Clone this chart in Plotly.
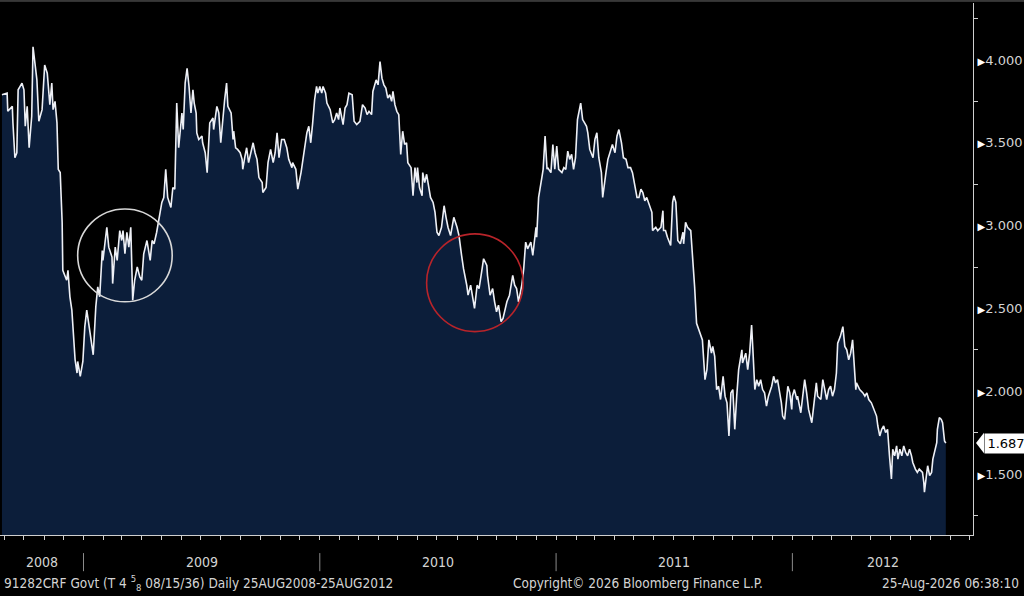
import pandas as pd
import plotly.graph_objects as go

# Bloomberg style price chart: 91282CRF Govt, daily 25AUG2008-25AUG2012

start_date = pd.Timestamp("2008-08-25")

# days after start_date
day_offset = [
    3, 11, 12, 19, 20, 23, 26, 28, 34, 37, 39, 42, 45, 49, 51, 54, 57, 60, 65, 69,
    73, 77, 80, 82, 85, 88, 90, 93, 96, 97, 103, 105, 108, 111, 116, 119, 120, 124, 128, 131,
    134, 137, 142, 144, 148, 151, 154, 158, 159, 164, 165, 168, 173, 174, 178, 181, 185, 188, 190, 193,
    196, 199, 202, 205, 208, 212, 216, 219, 222, 227, 229, 232, 235, 238, 242, 245, 250, 253, 256, 259,
    264, 267, 270, 273, 276, 281, 283, 286, 289, 292, 295, 298, 300, 303, 304, 307, 312, 313, 317, 320,
    321, 324, 329, 330, 335, 338, 341, 344, 347, 350, 352, 357, 360, 361, 364, 367, 371, 374, 375, 378,
    381, 384, 388, 391, 394, 397, 400, 405, 406, 411, 414, 418, 422, 425, 428, 431, 435, 439, 443, 446,
    451, 452, 457, 460, 465, 468, 471, 474, 477, 480, 483, 486, 489, 491, 494, 497, 499, 503, 505, 510,
    514, 517, 520, 523, 525, 530, 533, 536, 539, 544, 547, 551, 556, 560, 564, 567, 570, 574, 576, 581,
    584, 587, 590, 593, 596, 599, 602, 605, 607, 610, 613, 616, 619, 622, 625, 628, 630, 635, 638, 641,
    644, 645, 648, 652, 653, 656, 659, 662, 665, 669, 672, 675, 678, 682, 686, 689, 692, 696, 699, 701,
    706, 709, 713, 716, 721, 723, 727, 730, 733, 737, 740, 744, 747, 752, 753, 757, 761, 764, 767, 770,
    774, 777, 780, 783, 787, 792, 795, 798, 801, 806, 809, 812, 815, 820, 823, 828, 829, 832, 837, 839,
    842, 845, 846, 851, 854, 857, 860, 863, 868, 871, 874, 877, 880, 883, 886, 889, 892, 897, 900, 903,
    906, 908, 911, 916, 919, 922, 925, 929, 931, 936, 939, 943, 946, 950, 953, 956, 960, 963, 967, 970,
    974, 977, 980, 984, 987, 990, 993, 996, 999, 1002, 1007, 1008, 1013, 1016, 1021, 1024, 1025, 1028, 1031, 1036,
    1039, 1041, 1044, 1047, 1051, 1055, 1056, 1059, 1062, 1067, 1070, 1073, 1076, 1081, 1085, 1089, 1092, 1095, 1099, 1101,
    1104, 1107, 1110, 1113, 1117, 1120, 1123, 1126, 1129, 1132, 1135, 1138, 1141, 1146, 1147, 1152, 1155, 1158, 1161, 1163,
    1166, 1169, 1172, 1175, 1178, 1181, 1184, 1187, 1192, 1195, 1198, 1201, 1204, 1207, 1209, 1212, 1215, 1217, 1220, 1223,
    1224, 1227, 1231, 1232, 1237, 1240, 1243, 1246, 1249, 1254, 1257, 1261, 1263, 1268, 1271, 1274, 1277, 1280, 1283, 1286,
    1289, 1292, 1294, 1298, 1302, 1305, 1308, 1311, 1314, 1317, 1319, 1322, 1323, 1328, 1333, 1336, 1339, 1342, 1346, 1348,
    1351, 1354, 1356, 1359, 1362, 1365, 1368, 1371, 1374, 1377, 1379, 1382, 1385, 1387, 1390, 1393, 1396, 1399, 1402, 1405,
    1408, 1410, 1414, 1417, 1420, 1425, 1427, 1428, 1431, 1433, 1436, 1439, 1441, 1444, 1447, 1448, 1451, 1454, 1456, 1459,
    1461,
]

# price / yield level
price = [
    3.79, 3.80, 3.69, 3.72, 3.62, 3.41, 3.44, 3.82, 3.86, 3.82, 3.60, 3.72, 3.47, 3.66, 4.08, 3.96, 3.88, 3.63, 3.70, 3.97,
    3.92, 3.73, 3.86, 3.70, 3.75, 3.62, 3.34, 3.32, 3.02, 2.73, 2.67, 2.73, 2.57, 2.49, 2.19, 2.11, 2.18, 2.09, 2.18, 2.39,
    2.49, 2.41, 2.25, 2.22, 2.51, 2.63, 2.57, 2.85, 2.79, 2.93, 2.99, 2.87, 2.81, 2.65, 2.87, 2.79, 2.97, 2.91, 2.97, 2.83,
    2.96, 2.87, 2.99, 2.55, 2.67, 2.75, 2.69, 2.67, 2.83, 2.91, 2.87, 2.79, 2.91, 2.89, 2.96, 3.03, 3.14, 3.17, 3.34, 3.17,
    3.11, 3.23, 3.22, 3.74, 3.47, 3.68, 3.58, 3.86, 3.95, 3.84, 3.68, 3.82, 3.74, 3.68, 3.56, 3.52, 3.54, 3.50, 3.44, 3.32,
    3.40, 3.62, 3.65, 3.58, 3.72, 3.68, 3.50, 3.66, 3.76, 3.86, 3.72, 3.68, 3.52, 3.57, 3.47, 3.46, 3.44, 3.40, 3.34, 3.41,
    3.47, 3.38, 3.46, 3.50, 3.44, 3.40, 3.29, 3.26, 3.20, 3.23, 3.38, 3.46, 3.38, 3.44, 3.56, 3.41, 3.52, 3.52, 3.47, 3.40,
    3.35, 3.38, 3.34, 3.22, 3.32, 3.41, 3.50, 3.56, 3.60, 3.50, 3.62, 3.76, 3.84, 3.80, 3.84, 3.80, 3.84, 3.80, 3.74, 3.70,
    3.62, 3.64, 3.68, 3.64, 3.71, 3.61, 3.71, 3.73, 3.80, 3.79, 3.63, 3.61, 3.63, 3.73, 3.71, 3.67, 3.69, 3.67, 3.81, 3.88,
    3.85, 3.99, 3.89, 3.85, 3.83, 3.77, 3.79, 3.75, 3.81, 3.73, 3.69, 3.67, 3.43, 3.57, 3.49, 3.50, 3.38, 3.35, 3.18, 3.35,
    3.26, 3.35, 3.23, 3.18, 3.32, 3.26, 3.31, 3.23, 3.17, 3.14, 3.08, 2.96, 2.94, 2.99, 3.12, 3.05, 2.99, 2.94, 3.00, 3.05,
    2.99, 2.94, 2.82, 2.74, 2.64, 2.58, 2.64, 2.58, 2.50, 2.64, 2.62, 2.72, 2.80, 2.76, 2.70, 2.58, 2.62, 2.54, 2.48, 2.52,
    2.42, 2.44, 2.50, 2.54, 2.58, 2.70, 2.64, 2.62, 2.54, 2.64, 2.74, 2.90, 2.86, 2.90, 2.82, 2.99, 2.93, 3.17, 3.29, 3.34,
    3.54, 3.34, 3.35, 3.32, 3.49, 3.34, 3.48, 3.34, 3.32, 3.35, 3.34, 3.45, 3.40, 3.43, 3.34, 3.41, 3.64, 3.74, 3.64, 3.62,
    3.60, 3.56, 3.46, 3.41, 3.52, 3.56, 3.41, 3.32, 3.17, 3.32, 3.40, 3.45, 3.49, 3.44, 3.54, 3.58, 3.50, 3.41, 3.40, 3.35,
    3.35, 3.32, 3.26, 3.17, 3.17, 3.22, 3.20, 3.15, 3.17, 3.14, 3.08, 2.97, 2.99, 2.97, 2.99, 3.09, 2.97, 2.97, 2.93, 2.88,
    3.14, 3.18, 3.14, 2.91, 2.89, 2.96, 2.89, 3.02, 2.99, 2.97, 2.81, 2.63, 2.41, 2.35, 2.31, 2.07, 2.13, 2.31, 2.23, 2.27,
    2.21, 2.01, 2.03, 1.95, 2.09, 1.97, 1.93, 1.73, 1.99, 2.01, 1.77, 1.97, 2.13, 2.25, 2.17, 2.23, 2.13, 2.23, 2.40, 2.25,
    2.01, 2.07, 2.03, 2.07, 2.01, 1.99, 1.91, 1.97, 2.03, 2.09, 2.05, 2.07, 2.01, 1.93, 1.85, 1.83, 1.95, 2.03, 1.99, 1.89,
    1.97, 2.01, 1.95, 1.97, 1.87, 1.99, 2.07, 1.99, 1.89, 1.81, 1.93, 2.05, 1.97, 1.95, 2.07, 2.01, 1.95, 2.01, 2.03, 1.97,
    2.01, 2.11, 2.29, 2.33, 2.39, 2.27, 2.25, 2.19, 2.23, 2.31, 2.21, 2.01, 2.05, 2.01, 1.99, 1.97, 1.99, 1.95, 1.93, 1.91,
    1.87, 1.85, 1.79, 1.73, 1.77, 1.79, 1.75, 1.77, 1.61, 1.47, 1.65, 1.61, 1.67, 1.59, 1.65, 1.61, 1.67, 1.63, 1.61, 1.65,
    1.61, 1.57, 1.53, 1.51, 1.53, 1.51, 1.45, 1.39, 1.49, 1.55, 1.49, 1.51, 1.59, 1.65, 1.69, 1.77, 1.84, 1.83, 1.81, 1.70,
    1.687,
]

y_ticks = [1.5, 2.0, 2.5, 3.0, 3.5, 4.0]
y_minor = [1.25, 1.75, 2.25, 2.75, 3.25, 3.75, 4.25]
years = [2008, 2009, 2010, 2011, 2012]

# highlight circles: (first day, last day, low, high, colour)
circles = [
    (120, 266, 2.54, 3.10, "#d8d8d8"),
    (659, 808, 2.36, 2.95, "#b8242a"),
]

dates = start_date + pd.to_timedelta(day_offset, unit="D")
last = price[-1]

x_lo = start_date
x_hi = pd.Timestamp("2012-10-06")
y_lo, y_hi = 1.132, 4.344

grey = "#d4d4d4"
fnt = "DejaVu Sans Condensed, Liberation Sans Narrow, DejaVu Sans, sans-serif"

fig = go.Figure()
fig.add_trace(go.Scatter(
    x=dates, y=price, mode="lines", fill="tozeroy",
    fillcolor="#0c1e3a", line=dict(color="#eef0f6", width=1.6),
    hoverinfo="x+y", showlegend=False,
))

arrow = "<span style='font-size:10px;color:#ffffff'>\u25B6</span>"
fig.update_layout(
    width=1024, height=596,
    margin=dict(l=0, r=51, t=3, b=61),
    paper_bgcolor="black", plot_bgcolor="black",
    font=dict(family="DejaVu Sans", size=13, color=grey),
    xaxis=dict(
        range=[x_lo, x_hi], showgrid=False, zeroline=False,
        showline=True, linecolor="#cfcfcf", linewidth=1,
        tickvals=pd.date_range("2008-09-01", "2012-10-01", freq="MS"),
        ticks="outside", ticklen=4, tickcolor="#cfcfcf", showticklabels=False,
    ),
    yaxis=dict(
        range=[y_lo, y_hi], side="right", showgrid=False, zeroline=False,
        showline=True, linecolor="#cfcfcf", linewidth=1,
        tickvals=y_ticks, ticktext=[arrow + f"{v:.3f}" for v in y_ticks],
        ticks="", ticklabelstandoff=1,
        minor=dict(tickvals=y_minor, ticks="outside", ticklen=4, tickcolor="#cfcfcf"),
        tickfont=dict(family="DejaVu Sans", size=13, color=grey),
    ),
)

# highlight circles
for d0, d1, lo, hi, col in circles:
    fig.add_shape(type="circle", xref="x", yref="y",
                  x0=start_date + pd.Timedelta(days=d0), x1=start_date + pd.Timedelta(days=d1),
                  y0=lo, y1=hi, line=dict(color=col, width=1.6))

# year separators and labels under the axis
for yr in years:
    y0 = max(pd.Timestamp(f"{yr}-01-01"), x_lo)
    y1 = min(pd.Timestamp(f"{yr + 1}-01-01"), x_hi)
    if yr > years[0]:
        fig.add_shape(type="line", xref="x", yref="paper", x0=y0, x1=y0,
                      y0=-0.034, y1=-0.068, line=dict(color="#8a8a8a", width=1))
    fig.add_annotation(x=y0 + (y1 - y0) / 2, y=-0.051, xref="x", yref="paper",
                       text=str(yr), showarrow=False, yanchor="middle",
                       font=dict(family=fnt, size=14, color=grey))

# last value tag
fig.add_shape(type="path", xref="paper", yref="y",
              path=f"M 1.0031 {last} L 1.0113 {last + 0.062} L 1.0113 {last - 0.062} Z",
              fillcolor="white", line=dict(width=0))
fig.add_annotation(x=1.011, y=last, xref="paper", yref="y", text=f"{last:.3f}",
                   showarrow=False, xanchor="left", yanchor="middle",
                   bgcolor="white", borderpad=2, width=38,
                   font=dict(family="DejaVu Sans", size=13, color="black"))

# footer line
foot = dict(y=-0.091, xref="paper", yref="paper", showarrow=False, yanchor="middle",
            font=dict(family=fnt, size=13.5, color=grey))
fig.add_annotation(x=0.002, xanchor="left",
                   text="91282CRF Govt (T 4 <sup>5</sup><sub>8</sub> 08/15/36) Daily 25AUG2008-25AUG2012", **foot)
fig.add_annotation(x=0.525, xanchor="left", text="Copyright\u00a9 2026 Bloomberg Finance L.P.", **foot)
fig.add_annotation(x=1.049, xanchor="right", text="25-Aug-2026 06:38:10", **foot)

# thin border along the top of the page
fig.add_shape(type="line", xref="paper", yref="paper", x0=0, x1=1.0524,
              y0=1.0038, y1=1.0038, line=dict(color="#6a6a6a", width=1))

# the page body has a default 8px margin; drop it so the figure sits in the corner
fig.write_html("out.html", config={"displayModeBar": False},
               post_script="document.body.style.margin='0';")
